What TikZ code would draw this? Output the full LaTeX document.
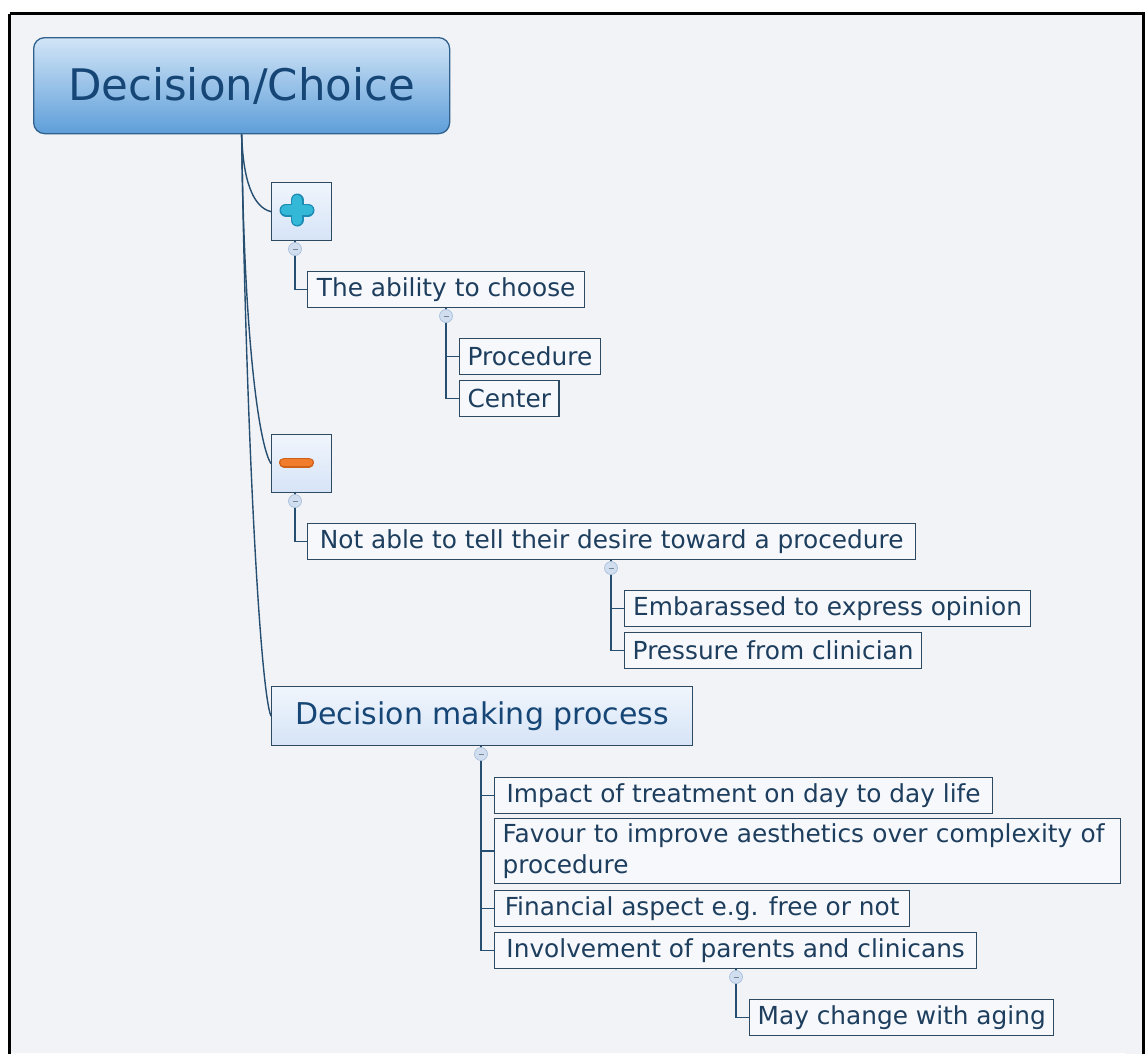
\documentclass[tikz,border=0pt]{standalone}
\usepackage{fontspec}
\setmainfont{DejaVu Sans}
\usetikzlibrary{calc}
\definecolor{bg}{RGB}{242,243,247}
\definecolor{boxfill}{RGB}{246,248,252}
\definecolor{txt}{RGB}{30,62,94}
\definecolor{bord}{RGB}{46,74,99}
\definecolor{link}{RGB}{38,78,112}
\definecolor{rootbord}{RGB}{48,96,140}
\definecolor{roottxt}{RGB}{22,70,118}
\definecolor{lbtop}{RGB}{240,245,252}
\definecolor{lbbot}{RGB}{214,228,247}
\definecolor{dotfill}{RGB}{208,222,240}
\definecolor{dotedge}{RGB}{170,192,218}
\definecolor{plusc}{RGB}{52,184,216}
\definecolor{plusd}{RGB}{28,140,180}
\definecolor{minusc}{RGB}{240,124,44}
\definecolor{minusd}{RGB}{206,96,24}
\tikzset{
  box/.style={draw=bord, line width=1.3, fill=boxfill, text=txt, anchor=north west,
    inner xsep=8, inner ysep=0, minimum height=36,
    font=\fontsize{24.8}{31}\selectfont},
  iconbox/.style={draw=bord, line width=1.3, top color=lbtop, bottom color=lbbot,
    anchor=north west, minimum width=60, minimum height=58, inner sep=0},
  rootbox/.style={draw=rootbord, line width=1.3, rounded corners=11,
    top color={rgb,255:red,210;green,229;blue,247}, bottom color={rgb,255:red,94;green,158;blue,217},
    text=roottxt, anchor=north west, minimum width=416, minimum height=96, inner sep=0,
    font=\fontsize{43.5}{50}\selectfont},
  subbox/.style={draw=bord, line width=1.3, top color=lbtop, bottom color=lbbot,
    text=roottxt, anchor=north west, minimum width=421, minimum height=59, inner sep=0,
    font=\fontsize{30}{36}\selectfont},
  conn/.style={draw=link, line width=1.4},
  dot/.style={circle, fill=dotfill, draw=dotedge, line width=0.7, minimum size=13, inner sep=0,
    path picture={\draw[dotedge!70!black, line width=0.7]
      ($(path picture bounding box.center)+(-2.5,0)$) -- ++(5,0);}},
}
\begin{document}
\begin{tikzpicture}[x=1pt,y=-1pt]
\useasboundingbox (0,0) rectangle (1146,1053);
\fill[white] (0,0) rectangle (1146,1053);
\draw[fill=bg, line width=3] (9.5,13.5) -- (1143,13.5) -- (1143,1070) (9.5,1070) -- (9.5,13.5);
\fill[bg] (11,15) rectangle (1141.5,1053);

% nodes
\node[rootbox] (root) at (33,37) {Decision/Choice};
\node[iconbox] (plus) at (271,182) {};
\node[iconbox] (minus) at (271,434) {};
\node[subbox] (dmp) at (271,686) {Decision making process};

\node[box, minimum width=277] (ability) at (307,271) {The ability to choose};
\node[box, minimum width=139] (proc) at (459,338) {Procedure};
\node[box, minimum width=99] (center) at (459,380) {Center};

\node[box, minimum width=608] (notable) at (307,523) {Not able to tell their desire toward a procedure};
\node[box, minimum width=406] (emb) at (624,590) {Embarassed to express opinion};
\node[box, minimum width=297] (press) at (624,632) {Pressure from clinician};

\node[box, minimum width=498] (impact) at (494,777) {Impact of treatment on day to day life};
\node[box, minimum width=626, minimum height=65, text width=610, align=left] (favour) at (494,818)
  {Favour to improve aesthetics over complexity of procedure};
\node[box, minimum width=415] (fin) at (494,890) {Financial aspect e.g. free or not};
\node[box, minimum width=482] (inv) at (494,932) {Involvement of parents and clinicans};
\node[box, minimum width=303] (aging) at (749,999) {May change with aging};

% connector branch points
\coordinate (c1) at (295,249);
\coordinate (c2) at (446,316);
\coordinate (c3) at (295,501);
\coordinate (c4) at (611,568);
\coordinate (c5) at (481,754);
\coordinate (c6) at (736,977);

% root curves
\draw[conn] (root.south) .. controls (243,178) and (252,207) .. (plus.west);
\draw[conn] (root.south) .. controls (244,340) and (259,445) .. (minus.west);
\draw[conn] (root.south) .. controls (246,430) and (260,690) .. (dmp.west);

% tree connectors
\draw[conn] (c1 |- plus.south) -- (c1) |- (ability.west);
\draw[conn] (c2 |- ability.south) -- (c2) |- (proc.west);
\draw[conn] (c2) |- (center.west);
\draw[conn] (c3 |- minus.south) -- (c3) |- (notable.west);
\draw[conn] (c4 |- notable.south) -- (c4) |- (emb.west);
\draw[conn] (c4) |- (press.west);
\draw[conn] (c5 |- dmp.south) -- (c5) |- (impact.west);
\draw[conn] (c5) |- (favour.west);
\draw[conn] (c5) |- (fin.west);
\draw[conn] (c5) |- (inv.west);
\draw[conn] (c6 |- inv.south) -- (c6) |- (aging.west);

% collapse dots
\node[dot] (d1) at (c1) {};
\node[dot] (d2) at (c2) {};
\node[dot] (d3) at (c3) {};
\node[dot] (d4) at (c4) {};
\node[dot] (d5) at (c5) {};
\node[dot] (d6) at (c6) {};

% plus icon
\begin{scope}[line cap=round]
\draw[plusd, line width=13] (297,200) -- (297,220);
\draw[plusd, line width=13] (286,210) -- (308,210);
\draw[plusc, line width=10.5] (297,200) -- (297,220);
\draw[plusc, line width=10.5] (286,210) -- (308,210);
% minus icon
\draw[minusd, line width=10] (284,462.5) -- (309,462.5);
\draw[minusc, line width=7.5] (284,462.5) -- (309,462.5);
\end{scope}
\end{tikzpicture}
\end{document}
